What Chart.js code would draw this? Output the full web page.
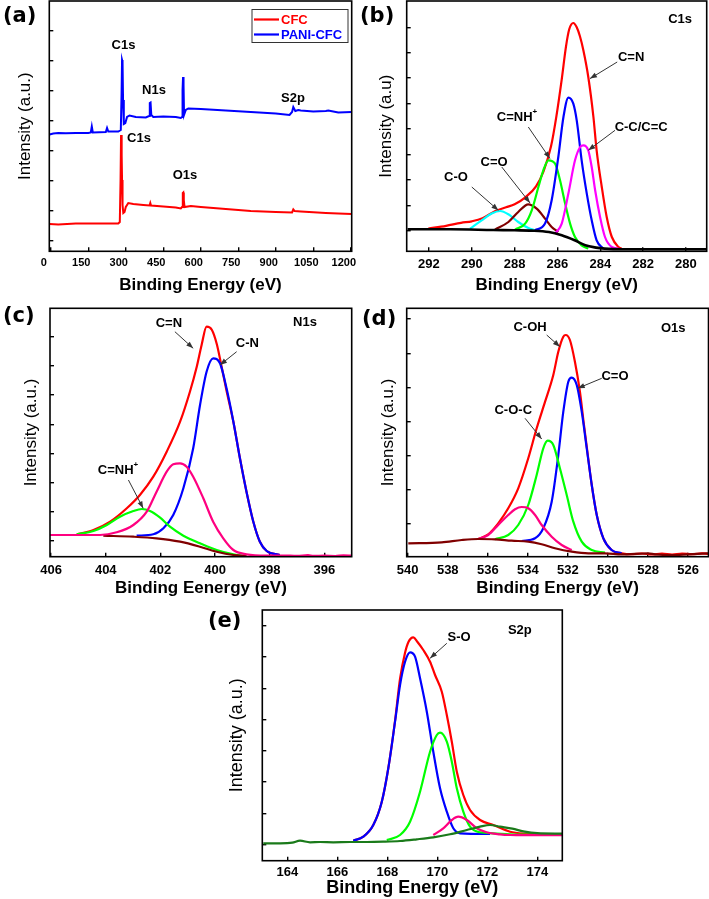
<!DOCTYPE html>
<html><head><meta charset="utf-8">
<script src="https://cdn.jsdelivr.net/npm/chart.js@4.4.1/dist/chart.umd.min.js"></script>
<style>
html,body{margin:0;padding:0;background:#fff;}
body{width:709px;height:899px;position:relative;overflow:hidden;}
canvas{position:absolute;}
.plabel{position:absolute;font:bold 21px "DejaVu Sans",Verdana,sans-serif;line-height:21px;color:#000;white-space:nowrap;}
</style></head><body>
<canvas id="ca" width="358" height="300" style="left:0;top:0"></canvas>
<canvas id="cb" width="354" height="300" style="left:355px;top:0"></canvas>
<canvas id="cc" width="358" height="300" style="left:0;top:300px"></canvas>
<canvas id="cd" width="354" height="300" style="left:355px;top:300px"></canvas>
<canvas id="ce" width="370" height="299" style="left:200px;top:600px"></canvas>
<div class="plabel" style="left:3px;top:5px">(a)</div>
<div class="plabel" style="left:360px;top:5px">(b)</div>
<div class="plabel" style="left:3px;top:305px">(c)</div>
<div class="plabel" style="left:362px;top:308px">(d)</div>
<div class="plabel" style="left:208px;top:610px">(e)</div>
<script>
// ---------------- DATA ----------------
// (a) survey spectra: [binding energy eV, intensity a.u.]
const aCFC = [[-5,27.3],[30,26.8],[100,27.8],[200,27.8],[270,27.8],[276,29.3],[279,71.3],[281,116.3],[283,111.3],[284,96.3],[285,71.3],[287,46.3],[290,38.3],[295,39.3],[300,44.3],[310,48.3],[330,47.3],[370,46.3],[395,45.8],[398,48.3],[401,45.8],[450,44.8],[500,43.8],[520,42.8],[525,44.3],[528,58.3],[530,58.8],[532,51.3],[535,44.3],[560,45.3],[600,44.3],[700,42.3],[800,40.3],[900,39.3],[965,38.8],[970,41.8],[975,40.3],[1000,39.8],[1100,38.3],[1150,37.8],[1203,37.3]];
const aPANI = [[-5,116.8],[10,117.8],[30,118.3],[60,118],[100,118.3],[150,118.3],[160,118.8],[164,124.8],[168,118.8],[220,119.3],[225,123.3],[230,119.8],[270,119.8],[280,121.3],[283,156.3],[285,191.3],[287,189.3],[289,151.3],[292,127.3],[298,128.3],[305,134.3],[315,135.8],[340,134.3],[380,133.8],[393,135.3],[396,148.3],[399,148.8],[402,136.3],[410,134.3],[450,134.8],[500,134.3],[520,133.3],[525,134.3],[527,161.3],[529,174.3],[531,166.3],[533,136.3],[540,141.3],[550,142.8],[600,142.3],[700,140.8],[800,139.3],[900,137.8],[955,136.3],[965,139.3],[970,144.3],[978,140.3],[990,141.3],[1000,140.8],[1050,139.8],[1100,140.3],[1110,140.8],[1150,138.8],[1203,139.3]];
const aXTicks = [0,150,300,450,600,750,900,1050,1200];
const aYTicks = [10.3,40.3,70.3,100.3,130.3,160.3,190.3,220.3];

// (b) C1s
const bEnvelope = [[292.03,22.7],[291.2,25.5],[290.5,28.5],[290.0,30],[289.5,33],[288.9,40.3],[288.4,44],[288.0,47],[287.5,54],[287.0,65],[286.65,80],[286.3,105],[286.05,135],[285.8,172],[285.6,205],[285.45,222],[285.26,228.3],[285.1,224],[284.95,215],[284.79,201],[284.56,174.3],[284.32,134.3],[284.17,101],[283.93,64.3],[283.7,34.3],[283.46,14.3],[283.15,4.3],[283.0,2.7]];
const bCO = [[290.08,22.7],[289.54,31],[289.07,37.7],[288.68,40.3],[288.29,37],[287.83,29.3],[287.36,23.3],[287.05,21]];
const bCdO = [[288.92,21.7],[288.29,29.3],[287.83,39.3],[287.36,47],[286.97,42.7],[286.58,32.7],[286.27,24.3],[285.96,19.3]];
const bCNH = [[287.98,21.7],[287.51,27.7],[287.2,41],[286.89,64.3],[286.66,81],[286.42,91],[286.11,87.7],[285.88,71],[285.64,47.7],[285.41,27.7],[285.18,14.3],[284.87,6],[284.56,2.7]];
const bCN = [[287.05,21],[286.58,27.7],[286.27,51],[285.96,94.3],[285.72,134.3],[285.49,153.7],[285.26,147.7],[285.1,131],[284.87,91],[284.63,57.7],[284.4,31],[284.17,11],[283.85,2.7]];
const bCC = [[286.11,17.7],[285.8,27.7],[285.49,57.7],[285.18,91],[284.94,104.3],[284.79,106],[284.56,101],[284.4,84.3],[284.24,61],[284.01,34.3],[283.78,14.3],[283.46,4.3],[283.15,2.7]];
const bBackground = [[293.0,22],[291,22],[289,21.3],[288,21],[287.2,20.7],[286.4,19.3],[285.8,16],[285.2,11],[284.7,6],[284.2,3.7],[283.8,2.7],[283,2],[279,2]];
const bXTicks = [292,290,288,286,284,282,280];
const bYTicks = [20.6,46,71.3,97,122.3,148,173.3,198.6,224];

// (c) N1s
const cEnvelope = [[405.06,22.4],[404.45,26.7],[403.84,35],[403.23,48.4],[402.75,61.7],[402.26,80],[401.77,105],[401.28,135],[400.92,165],[400.67,190],[400.49,212],[400.31,230],[400.12,227],[399.94,213],[399.76,190],[399.58,166],[399.33,135],[399.09,98.4],[398.85,65],[398.6,35],[398.36,15],[398.11,5.7],[397.63,1.7]];
const cCN = [[402.87,21],[402.26,22.4],[401.89,28.4],[401.53,41.7],[401.16,68.4],[400.8,108.4],[400.55,151.7],[400.31,185],[400.07,198.4],[399.82,193.4],[399.58,168.4],[399.33,135],[399.09,98.4],[398.85,65],[398.6,35],[398.36,15],[398.11,5.7],[397.63,1.7]];
const cCdN = [[406.04,21.7],[404.21,21.7],[403.6,24.4],[402.99,31.7],[402.5,45],[402.14,65],[401.77,85],[401.53,92.4],[401.28,93.4],[401.04,90],[400.8,80],[400.43,58.4],[400.07,35],[399.7,18.4],[399.33,6.7],[398.85,2.4],[398.11,1],[397.5,1.2],[397,0.8],[396.6,1.5],[396.4,0.8],[396,1],[395.6,0.7],[395.3,1.4],[395.0,1]];
const cCNH = [[405.06,22.4],[404.45,25.7],[403.96,31.7],[403.48,40],[402.99,45.7],[402.68,47.7],[402.38,45.7],[402.01,39],[401.65,30],[401.16,21],[400.55,13.4],[399.94,6.7],[399.33,2.4],[398.85,0.4]];
const cBackground = [[404.09,21],[402.99,20],[402.14,18.4],[401.28,15],[400.55,10],[399.94,5],[399.33,1.7],[398.85,0.7]];
const cXTicks = [406,404,402,400,398,396];
const cYTicks = [16,45,74.4,103.4,132.4,161.7,191,220];

// (d) O1s
const dEnvelope = [[536.48,17.7],[535.98,22.4],[535.48,33.4],[534.98,48.4],[534.48,68.4],[533.98,98.4],[533.56,128.4],[533.14,155],[532.73,181.7],[532.48,205],[532.23,220],[532.11,221.7],[531.9,216.7],[531.65,195],[531.4,165],[531.2,132],[531.06,110],[530.81,71.7],[530.56,41.7],[530.23,18.4],[529.82,6.7],[529.32,3.4],[528.8,2.5],[528.3,3.2],[527.8,2.2],[527.3,3],[526.8,2],[526.3,3],[525.8,2.5],[525.3,3.3],[525.0,2.8]];
const dCdO = [[534.31,15.7],[533.64,18.4],[533.23,28.4],[532.81,55],[532.48,101.7],[532.23,145],[531.98,175],[531.81,179],[531.56,171.7],[531.31,145],[531.06,108.4],[530.81,71.7],[530.56,41.7],[530.23,18.4],[529.82,6.7],[529.32,3.4]];
const dCOC = [[535.64,17.4],[534.98,21.7],[534.48,31.7],[533.98,51.7],[533.56,81.7],[533.23,108.4],[533.01,116],[532.73,111.7],[532.4,88.4],[532.06,61.7],[531.73,35],[531.31,15],[530.81,6.7],[530.15,4]];
const dCOH = [[536.48,17.7],[535.98,21.7],[535.48,31.7],[534.98,41.7],[534.64,47.4],[534.31,49.7],[533.98,48.4],[533.64,41.7],[533.31,31.7],[532.81,20],[532.31,11.7],[531.81,6.7]];
const dBackground = [[539.97,13.4],[538.3,14.4],[537.3,16.7],[536.48,17.7],[535.64,17.4],[534.81,16],[533.98,15],[533.31,12.4],[532.65,8.4],[531.81,5],[530.98,3.4],[530.15,3.4],[529.32,2.4],[527.99,3.4],[527.65,2.4],[526.82,1.7],[525.99,2.4],[524.99,3.4]];
const dXTicks = [540,538,536,534,532,530,528,526];
const dYTicks = [32.7,66.7,101,135,169,203.4,237.7];

// (e) S2p
const eEnvelope = [[166.64,20],[167.04,24],[167.44,35.7],[167.78,59],[168.04,92.4],[168.31,140],[168.51,182],[168.71,208],[168.85,219],[169.04,223.4],[169.2,219],[169.44,210.7],[169.71,199],[169.91,185.7],[170.18,169],[170.38,145.7],[170.58,119],[170.78,89],[171.04,65.7],[171.31,50.7],[171.71,40.7],[172.24,35.7],[172.91,29],[173.5,27],[174.2,26.5],[175,26]];
const eSO1 = [[166.64,20],[167.04,24],[167.44,35.7],[167.78,59],[168.04,92.4],[168.31,139],[168.51,175.7],[168.71,199],[168.91,208.4],[169.11,204],[169.31,182.4],[169.58,149],[169.84,109],[170.11,72.4],[170.38,49],[170.64,32.4],[170.91,27.4],[172.11,26.7]];
const eSO2 = [[167.98,20.7],[168.51,25.7],[168.91,39],[169.31,69],[169.71,109],[169.98,125.7],[170.11,128],[170.38,119],[170.58,99],[170.78,72.4],[171.04,49],[171.31,34],[171.71,28.4],[172.24,27.4],[172.91,26.4],[173.5,26],[175,26]];
const eSO3 = [[169.84,25.7],[170.24,32.4],[170.58,40.7],[170.84,44],[171.18,40.7],[171.58,32.4],[171.97,28.4],[172.51,26.4],[172.91,25.7],[173.5,25.5],[175,25.5]];
const eBackground = [[163.04,17.4],[163.71,17.4],[164.2,18],[164.51,20],[164.91,18.4],[165.31,18.7],[165.84,18.4],[166.51,18.7],[167.18,18.7],[167.84,19],[168.51,19.7],[169.18,21.4],[169.84,23.4],[170.51,26.4],[171.18,30.7],[171.71,34],[172.11,35.7],[172.51,34],[173,32],[173.5,29],[174,27.5],[175,27]];
const eXTicks = [164,166,168,170,172,174];
const eYTicks = [16.4,47.4,78.7,110,141.4,172.4,204,235];

// ---------------- STYLE ----------------
const SANS = '"Liberation Sans", Arial, Helvetica, sans-serif';
function hasFont(f){const c=document.createElement('canvas').getContext('2d');c.font='bold 20px monospace';const w1=c.measureText('1050 ABCmmm').width;c.font='bold 20px "'+f+'", monospace';const w2=c.measureText('1050 ABCmmm').width;return Math.abs(w1-w2)>0.5;}
const NARROW_OK = hasFont('Liberation Sans Narrow');
const A_TICK_FONT = NARROW_OK ? {family:'"Liberation Sans Narrow"', size:13, weight:'bold'} : {family:SANS, size:11, weight:'bold'};
const TICK_FONT = {family:SANS, size:13, weight:'bold'};
const NOTE_FONT = 'bold 13px ' + SANS;

Chart.defaults.animation = false;
Chart.defaults.font.family = SANS;
Chart.defaults.color = '#000';

function arrow(ctx,x1,y1,x2,y2){
  ctx.beginPath();ctx.moveTo(x1,y1);ctx.lineTo(x2,y2);ctx.stroke();
  const a=Math.atan2(y2-y1,x2-x1),L=7,W=2.6;
  ctx.beginPath();ctx.moveTo(x2,y2);
  ctx.lineTo(x2-L*Math.cos(a)+W*Math.sin(a),y2-L*Math.sin(a)-W*Math.cos(a));
  ctx.lineTo(x2-L*Math.cos(a)-W*Math.sin(a),y2-L*Math.sin(a)+W*Math.cos(a));
  ctx.closePath();ctx.fill();
}

function makePanel(id, cfg){
  const overlay = {
    id:'overlay_'+id,
    afterDatasetsDraw(chart){
      const {ctx, chartArea:a, scales:{x,y}} = chart;
      ctx.save();
      (cfg.notes||[]).forEach(n=>{
        ctx.font = n.font || NOTE_FONT;
        ctx.fillStyle = n.color || '#000';
        ctx.textBaseline = 'middle';
        const px = x.getPixelForValue(n.x), py = y.getPixelForValue(n.y);
        if (n.sup){
          const w = ctx.measureText(n.text).width;
          ctx.font = 'bold 8px ' + SANS;
          const ws = ctx.measureText(n.sup).width;
          const x0 = px - (w+ws)/2;
          ctx.textAlign='left';
          ctx.fillText(n.sup, x0+w, py-5);
          ctx.font = n.font || NOTE_FONT;
          ctx.fillText(n.text, x0, py);
        } else {
          ctx.textAlign='center';
          ctx.fillText(n.text, px, py);
        }
        if (n.arrow){
          ctx.strokeStyle='#333'; ctx.fillStyle='#333'; ctx.lineWidth=1;
          arrow(ctx, x.getPixelForValue(n.arrow[0]), y.getPixelForValue(n.arrow[1]), x.getPixelForValue(n.arrow[2]), y.getPixelForValue(n.arrow[3]));
        }
      });
      if (cfg.legend){
        const L = cfg.legend;
        ctx.strokeStyle='#333'; ctx.lineWidth=1;
        ctx.strokeRect(L.x, L.y, L.w, L.h);
        chart.data.datasets.slice().reverse().forEach((ds,i)=>{
          const yy = L.y + 10 + i*15;
          ctx.strokeStyle = ds.borderColor; ctx.lineWidth = 2.2;
          ctx.beginPath(); ctx.moveTo(L.x+2, yy); ctx.lineTo(L.x+27, yy); ctx.stroke();
          ctx.fillStyle = ds.borderColor; ctx.font = 'bold 13px '+SANS;
          ctx.textAlign='left'; ctx.textBaseline='middle';
          ctx.fillText(ds.label, L.x+29, yy+0.5);
        });
      }
      ctx.strokeStyle='#000'; ctx.lineWidth=1.6;
      ctx.strokeRect(a.left, a.top, a.right-a.left, a.bottom-a.top);
      ctx.restore();
    }
  };
  const tickGrid = {display:true, drawOnChartArea:false, drawTicks:true, tickLength:-4, color:'#000', lineWidth:1.4};
  return new Chart(document.getElementById(id), {
    type:'line',
    data:{datasets: cfg.series.map(s=>({
      label:s.label||'', data:s.data.map(p=>({x:p[0],y:p[1]})),
      borderColor:s.color, borderWidth:s.w||2.2, pointRadius:0, fill:false,
      tension: s.sharp ? 0 : 0.4, cubicInterpolationMode: s.sharp ? 'default' : 'monotone'
    }))},
    options:{
      responsive:false, animation:false, events:[],
      layout:{padding:cfg.pad},
      plugins:{legend:{display:false}, tooltip:{enabled:false}},
      scales:{
        x:{type:'linear', min:cfg.xMin, max:cfg.xMax, reverse:!!cfg.reverse,
          afterBuildTicks:s=>{s.ticks = cfg.xTicks.map(v=>({value:v}));},
          afterFit:s=>{s.height = cfg.xH; s.paddingLeft = 0; s.paddingRight = 0;},
          grid:tickGrid, border:{display:false},
          ticks:{font:cfg.tickFont||TICK_FONT, color:'#000', padding:cfg.tickPad, maxRotation:0, autoSkip:false, labelOffset:cfg.labelOffset||0, callback:v=>String(v)},
          title:{display:true, text:cfg.xTitle, color:'#000', font:{family:SANS, size:cfg.xTitleSize||17, weight:'bold'}, padding:{top:0,bottom:cfg.xTitlePB}}
        },
        y:{type:'linear', min:cfg.yMin, max:cfg.yMax,
          afterBuildTicks:s=>{s.ticks = cfg.yTicks.map(v=>({value:v}));},
          afterFit:s=>{s.width = cfg.yW; s.paddingTop = 0; s.paddingBottom = 0;},
          grid:tickGrid, border:{display:false},
          ticks:{display:false},
          title:{display:true, text:cfg.yTitle, color:'#000', font:{family:SANS, size:cfg.yTitleSize||17, weight:'normal'}, padding:{top:cfg.yTitlePT,bottom:0}}
        }
      }
    },
    plugins:[overlay]
  });
}

// (a)
makePanel('ca', {
  pad:{left:0, top:1, right:6.3, bottom:0}, yW:49.3, xH:48.7,
  xMin:-6, xMax:1203.6, xTicks:aXTicks, yMin:0, yMax:250.3, yTicks:aYTicks,
  tickFont:A_TICK_FONT, tickPad:9.2, labelOffset:-7,
  xTitle:'Binding Energy (eV)', xTitlePB:4.5, yTitle:'Intensity (a.u.)', yTitlePT:14.8,
  series:[
    {label:'PANI-CFC', data:aPANI, color:'#0000ff', w:2, sharp:true},
    {label:'CFC', data:aCFC, color:'#ff0000', w:2, sharp:true}
  ],
  legend:{x:252, y:9.5, w:96, h:33},
  notes:[
    {text:'C1s', x:290.8, y:206},
    {text:'N1s', x:412.8, y:161.3},
    {text:'S2p', x:968.8, y:153},
    {text:'C1s', x:352.8, y:113},
    {text:'O1s', x:536.8, y:76.3}
  ]
});

// (b)
makePanel('cb', {
  pad:{left:0, top:1, right:2.3, bottom:0}, yW:51.7, xH:48.7,
  xMin:279.03, xMax:293.04, reverse:true, xTicks:bXTicks, yMin:0, yMax:250.3, yTicks:bYTicks,
  tickPad:9.2, xTitle:'Binding Energy (eV)', xTitlePB:4.5, yTitle:'Intensity (a.u)', yTitlePT:21.5,
  series:[
    {data:bBackground, color:'#000000', w:2.6},
    {data:bCC, color:'#ff00ff'},
    {data:bCN, color:'#0000ff'},
    {data:bCNH, color:'#00ff00'},
    {data:bCdO, color:'#800000'},
    {data:bCO, color:'#00ffff'},
    {data:bEnvelope, color:'#ff0000'}
  ],
  notes:[
    {text:'C1s', x:280.27, y:232},
    {text:'C=N', x:282.56, y:194.3, arrow:[283.21,189.3,284.48,172.7]},
    {text:'C-C/C=C', x:282.09, y:124.3, arrow:[283.31,121,284.56,101]},
    {text:'C=NH', sup:'+', x:287.89, y:134.3, arrow:[287.36,124.3,286.35,92.7]},
    {text:'C=O', x:288.96, y:89.3, arrow:[288.6,84.3,287.28,48.3]},
    {text:'C-O', x:290.74, y:74.3, arrow:[290.0,64.3,288.76,41]}
  ]
});

// (c)
makePanel('cc', {
  pad:{left:0, top:8.3, right:6.3, bottom:0}, yW:50, xH:43.3,
  xMin:395.0, xMax:406.04, reverse:true, xTicks:cXTicks, yMin:0, yMax:248.4, yTicks:cYTicks,
  tickPad:9.8, xTitle:'Binding Eenergy (eV)', xTitlePB:1.2, yTitle:'Intensity (a.u.)', yTitlePT:21.5,
  series:[
    {data:cCdN, color:'#ff0080'},
    {data:cBackground, color:'#800000'},
    {data:cCNH, color:'#00ff00'},
    {data:cCN, color:'#0000ff'},
    {data:cEnvelope, color:'#ff0000'}
  ],
  notes:[
    {text:'N1s', x:396.71, y:234.2},
    {text:'C=N', x:401.69, y:233.4, arrow:[401.47,225,400.8,208.4]},
    {text:'C-N', x:398.82, y:213.4, arrow:[399.21,205,399.82,191.7]},
    {text:'C=NH', sup:'+', x:403.55, y:86.7, arrow:[403.17,76.7,402.63,48.4]}
  ]
});

// (d)
makePanel('cd', {
  pad:{left:0, top:8.3, right:0.5, bottom:0}, yW:51.7, xH:43.3,
  xMin:524.98, xMax:540.05, reverse:true, xTicks:dXTicks, yMin:0, yMax:248.4, yTicks:dYTicks,
  tickPad:9.8, xTitle:'Binding Energy (eV)', xTitlePB:1.2, yTitle:'Intensity (a.u.)', yTitlePT:23.1,
  series:[
    {data:dBackground, color:'#800000'},
    {data:dCOH, color:'#ff0080'},
    {data:dCOC, color:'#00ff00'},
    {data:dCdO, color:'#0000ff'},
    {data:dEnvelope, color:'#ff0000'}
  ],
  notes:[
    {text:'O1s', x:526.74, y:228.4},
    {text:'C-OH', x:533.89, y:229.2, arrow:[533.06,221.7,532.4,210]},
    {text:'C=O', x:529.65, y:180, arrow:[530.31,178.4,531.51,168.4]},
    {text:'C-O-C', x:534.73, y:146.7, arrow:[534.14,138.4,533.31,117.7]}
  ]
});

// (e)
makePanel('ce', {
  pad:{left:0, top:10, right:7.7, bottom:0}, yW:62.3, xH:38.3,
  xMin:163, xMax:175, xTicks:eXTicks, yMin:0, yMax:250.7, yTicks:eYTicks,
  tickPad:7.5, xTitle:'Binding Energy (eV)', xTitleSize:18, xTitlePB:0, yTitle:'Intensity (a.u.)', yTitleSize:18, yTitlePT:26,
  series:[
    {data:eBackground, color:'#1a7a1a'},
    {data:eSO3, color:'#ff0080'},
    {data:eSO2, color:'#00ff00'},
    {data:eSO1, color:'#0000ff'},
    {data:eEnvelope, color:'#ff0000'}
  ],
  notes:[
    {text:'S-O', x:170.87, y:223.2, arrow:[170.38,217.4,169.71,202.4]},
    {text:'S2p', x:173.3, y:230}
  ]
});
</script>
</body></html>
